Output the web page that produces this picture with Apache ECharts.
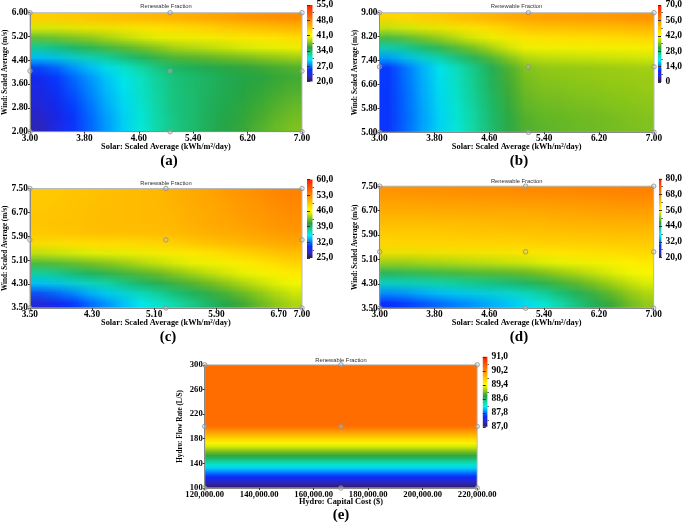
<!DOCTYPE html>
<html><head><meta charset="utf-8">
<script src="https://cdn.jsdelivr.net/npm/echarts@6/dist/echarts.min.js"></script>
<style>html,body{margin:0;padding:0;background:#fff;}#c{width:685px;height:528px;position:relative;}</style>
</head><body><div id="c"></div>
<script>
// ---------------- DATA ----------------
// Panel (a): Solar 3-7 x Wind 2-6, Renewable Fraction (%)
const aXTicks = [3.00, 3.80, 4.60, 5.40, 6.20, 7.00];
const aYTicks = [2.00, 2.80, 3.60, 4.40, 5.20, 6.00];
const aBarTicks = [20, 27, 34, 41, 48, 55];
const aSolarSamples = [3.00, 5.06, 7.00];
const aWindSamples = [2.00, 4.04, 6.00];
// rows listed top (high wind) to bottom, columns left (low solar) to right
const aRows = [
 [45.1,45.3,45.5,45.6,45.8,45.9,46.0,46.2,46.4,46.7,47.0,47.4,47.7,48.0,48.3,48.6],
 [41.3,41.6,42.0,42.3,42.7,43.0,43.3,43.7,44.0,44.3,44.6,45.0,45.3,45.6,45.9,46.2],
 [37.5,38.0,38.6,39.0,39.6,40.1,40.6,41.2,41.7,42.0,42.3,42.7,43.0,43.3,43.6,43.9],
 [33.7,34.4,35.1,35.8,36.5,37.2,37.9,38.6,39.3,39.6,39.9,40.3,40.6,40.9,41.2,41.5],
 [29.9,30.7,31.7,32.5,33.5,34.3,35.2,36.1,36.9,37.2,37.5,37.9,38.2,38.5,38.8,39.1],
 [26.1,27.1,28.2,29.2,30.4,31.4,32.5,33.6,34.5,34.8,35.1,35.5,35.8,36.1,36.4,36.7],
 [24.3,25.4,26.7,27.8,29.0,30.2,31.4,32.5,33.6,33.9,34.2,34.7,35.0,35.3,35.7,36.0],
 [23.8,25.0,26.3,27.5,28.8,30.0,31.2,32.4,33.5,33.9,34.3,34.7,35.1,35.5,35.9,36.3],
 [23.4,24.6,25.9,27.2,28.5,29.7,31.1,32.3,33.4,33.9,34.3,34.8,35.2,35.7,36.1,36.6],
 [22.9,24.2,25.5,26.9,28.3,29.5,30.9,32.2,33.4,33.8,34.4,34.9,35.4,35.9,36.4,36.9],
 [22.4,23.8,25.2,26.6,28.0,29.3,30.7,32.1,33.3,33.8,34.4,35.0,35.5,36.1,36.6,37.2],
 [21.9,23.4,24.8,26.3,27.7,29.1,30.6,32.0,33.2,33.8,34.5,35.1,35.6,36.3,36.9,37.5]
];

// Panel (b): Solar 3-7 x Wind 5-9
const bXTicks = [3.00, 3.80, 4.60, 5.40, 6.20, 7.00];
const bYTicks = [5.00, 5.80, 6.60, 7.40, 8.20, 9.00];
const bBarTicks = [0, 14, 28, 42, 56, 70];
const bSolarSamples = [3.00, 5.17, 7.00];
const bWindSamples = [5.00, 7.19, 9.00];
const bRows = [
 [48.4,49.1,49.9,50.5,51.2,51.9,52.6,53.4,54.0,54.4,54.6,54.9,55.1,55.4,55.7,56.0],
 [40.7,41.9,43.2,44.3,45.5,46.7,47.9,49.1,50.2,50.7,50.9,51.2,51.3,51.6,51.9,52.1],
 [33.1,34.8,36.5,38.1,39.8,41.4,43.1,44.8,46.5,47.0,47.2,47.4,47.6,47.8,48.0,48.2],
 [25.4,27.6,29.8,31.9,34.1,36.2,38.4,40.6,42.7,43.3,43.4,43.7,43.8,44.0,44.2,44.4],
 [17.7,20.4,23.0,25.7,28.3,31.0,33.6,36.3,38.9,39.5,39.7,39.9,40.0,40.2,40.4,40.5],
 [10.6,13.7,16.8,19.9,23.0,26.1,29.2,32.3,35.4,36.1,36.2,36.4,36.5,36.7,36.8,36.9],
 [10.5,13.5,16.6,19.7,22.7,25.8,28.8,31.9,34.9,35.6,35.8,36.0,36.1,36.3,36.4,36.6],
 [10.4,13.4,16.4,19.4,22.4,25.4,28.5,31.5,34.5,35.2,35.3,35.6,35.7,36.0,36.1,36.3],
 [10.3,13.2,16.2,19.2,22.2,25.1,28.1,31.1,34.0,34.7,34.9,35.2,35.3,35.6,35.8,36.0],
 [10.2,13.1,16.1,19.0,21.9,24.8,27.8,30.7,33.6,34.3,34.5,34.8,35.0,35.2,35.4,35.7],
 [10.1,12.9,15.9,18.7,21.6,24.5,27.4,30.3,33.2,33.9,34.1,34.4,34.6,34.8,35.1,35.4],
 [9.9,12.8,15.7,18.5,21.3,24.2,27.1,29.9,32.7,33.4,33.7,34.0,34.2,34.5,34.8,35.1]
];

// Panel (c): Solar 3.5-7 x Wind 3.5-7.5
const cXTicks = [3.50, 4.30, 5.10, 5.90, 6.70, 7.00];
const cYTicks = [3.50, 4.30, 5.10, 5.90, 6.70, 7.50];
const cBarTicks = [25, 32, 39, 46, 53, 60];
const cSolarSamples = [3.50, 5.25, 7.00];
const cWindSamples = [3.50, 5.78, 7.50];
const cRows = [
 [49.3,49.4,49.6,49.8,49.9,50.1,50.3,50.4,50.7,51.1,51.5,51.9,52.4,52.8,53.2,53.6],
 [49.4,49.5,49.7,49.9,49.9,50.1,50.2,50.3,50.6,51.0,51.4,51.7,52.2,52.5,52.9,53.3],
 [49.5,49.6,49.7,49.9,50.0,50.1,50.2,50.3,50.5,50.9,51.3,51.6,52.0,52.3,52.6,53.0],
 [49.6,49.7,49.8,49.9,50.0,50.1,50.2,50.3,50.4,50.8,51.1,51.4,51.8,52.0,52.4,52.7],
 [49.7,49.8,49.9,50.0,50.0,50.1,50.1,50.2,50.4,50.7,51.0,51.2,51.5,51.8,52.1,52.4],
 [48.6,48.8,48.8,49.0,49.1,49.2,49.3,49.4,49.6,49.9,50.3,50.5,50.8,51.1,51.4,51.7],
 [45.2,45.5,45.8,46.1,46.3,46.6,46.9,47.2,47.5,47.9,48.4,48.7,49.2,49.5,50.0,50.4],
 [41.8,42.2,42.7,43.2,43.6,44.0,44.5,45.0,45.4,45.9,46.5,47.0,47.5,48.0,48.5,49.1],
 [38.3,39.0,39.6,40.2,40.8,41.5,42.1,42.7,43.3,44.0,44.6,45.2,45.8,46.4,47.1,47.7],
 [34.9,35.7,36.5,37.3,38.1,38.9,39.7,40.5,41.2,42.0,42.7,43.4,44.2,44.9,45.6,46.4],
 [31.4,32.4,33.4,34.4,35.3,36.3,37.3,38.3,39.1,40.0,40.8,41.6,42.5,43.3,44.2,45.0],
 [28.0,29.1,30.3,31.5,32.6,33.7,34.9,36.0,37.0,38.0,38.9,39.9,40.8,41.8,42.7,43.7]
];

// Panel (d): Solar 3-7 x Wind 3.5-7.5
const dXTicks = [3.00, 3.80, 4.60, 5.40, 6.20, 7.00];
const dYTicks = [3.50, 4.30, 5.10, 5.90, 6.70, 7.50];
const dBarTicks = [20, 32, 44, 56, 68, 80];
const dSolarSamples = [3.00, 5.13, 7.00];
const dWindSamples = [3.50, 5.35, 7.50];
const dRows = [
 [67.4,67.5,67.6,67.7,67.8,67.9,68.1,68.2,68.3,68.4,68.6,68.7,68.8,69.0,69.1,69.2],
 [66.1,66.2,66.3,66.4,66.5,66.6,66.7,66.8,66.9,67.0,67.2,67.3,67.4,67.6,67.7,67.8],
 [64.8,64.9,65.0,65.1,65.1,65.2,65.4,65.5,65.5,65.6,65.8,65.9,66.0,66.2,66.3,66.4],
 [63.5,63.6,63.6,63.7,63.8,63.9,64.0,64.1,64.1,64.2,64.4,64.5,64.6,64.8,64.9,65.0],
 [62.2,62.3,62.3,62.4,62.4,62.5,62.6,62.7,62.7,62.8,63.0,63.1,63.2,63.4,63.5,63.6],
 [60.9,61.0,61.0,61.1,61.1,61.2,61.2,61.3,61.3,61.4,61.6,61.7,61.8,62.0,62.1,62.2],
 [59.3,59.4,59.4,59.5,59.5,59.6,59.6,59.8,59.8,59.9,60.1,60.2,60.3,60.6,60.7,60.8],
 [53.2,53.4,53.6,53.9,54.1,54.4,54.6,54.9,55.1,55.6,56.2,56.7,57.2,57.8,58.3,58.8],
 [47.0,47.5,47.9,48.3,48.7,49.2,49.6,50.0,50.4,51.3,52.3,53.2,54.0,55.0,55.9,56.8],
 [40.8,41.5,42.0,42.7,43.3,43.9,44.5,45.1,45.7,47.0,48.3,49.6,50.9,52.2,53.5,54.9],
 [34.7,35.5,36.3,37.1,37.9,38.7,39.5,40.2,41.0,42.7,44.4,46.1,47.7,49.5,51.2,52.9],
 [28.6,29.6,30.5,31.5,32.5,33.4,34.4,35.3,36.3,38.4,40.5,42.6,44.6,46.7,48.8,50.9]
];

// Panel (e): Hydro capital cost x Hydro flow rate (value depends on flow rate only)
const eXTicks = [120000, 140000, 160000, 180000, 200000, 220000];
const eYTicks = [100, 140, 180, 220, 260, 300];
const eBarTicks = [87.0, 87.8, 88.6, 89.4, 90.2, 91.0];
const eCostSamples = [120000, 170000, 220000];
const eFlowSamples = [100, 200, 300];
// one value per 5 L/s band, listed from 300 L/s (top) down to 100 L/s (bottom)
const eRowValues = [
 90.4,90.4,90.4,90.4,90.4,90.4,90.4,90.4,90.4,90.4,
 90.4,90.4,90.4,90.4,90.4,90.4,90.4,90.4,90.4,90.4,
 90.34,90.17,90.00,89.83,89.66,89.49,89.31,89.14,88.97,88.80,
 88.63,88.46,88.29,88.11,87.94,87.77,87.60,87.43,87.26,87.09
];

// ---------------- STYLE ----------------
const SERIF = '"Liberation Serif", "Times New Roman", serif';
const SANS = '"Liberation Sans", Arial, sans-serif';
const STOPS = [
 [0.00,'#2e1a5a'],[0.07,'#3028c8'],[0.15,'#0a2cff'],[0.22,'#0090ff'],[0.29,'#00f0f4'],
 [0.36,'#16d49a'],[0.44,'#26a040'],[0.52,'#9ccc16'],[0.60,'#ffff00'],[0.70,'#ffc800'],
 [0.78,'#ff9800'],[0.84,'#ff7200'],[0.93,'#ff4400'],[1.00,'#ff1a00']
];
function hex(c){return [parseInt(c.substr(1,2),16),parseInt(c.substr(3,2),16),parseInt(c.substr(5,2),16)];}
function colorAt(f){
  for(let i=1;i<STOPS.length;i++){
    if(f<=STOPS[i][0]){
      const a=STOPS[i-1],b=STOPS[i],t=(f-a[0])/(b[0]-a[0]);
      const ca=hex(a[1]),cb=hex(b[1]);
      return 'rgb('+ca.map((v,k)=>Math.round(v+(cb[k]-v)*t)).join(',')+')';
    }
  }
  return STOPS[STOPS.length-1][1];
}
const PALETTE = []; for(let i=0;i<=60;i++) PALETTE.push(colorAt(i/60));
const barGradient = {type:'linear',x:0,y:1,x2:0,y2:0,colorStops:STOPS.map(s=>({offset:s[0],color:s[1]}))};

const fmt2 = v => v.toFixed(2);
const fmtInt = v => String(Math.round(v));
const fmtMoney = v => String(Math.round(v)).replace(/\B(?=(\d{3})+(?!\d))/g, ',') + '.00';
const fmtBar = v => (Math.abs(v) < 1e-9) ? '0' : v.toFixed(1).replace('.', ',');
const mids = t => t.slice(1).map((v,i)=>(v+t[i])/2);

const solarName = 'Solar: Scaled Average (kWh/m\u00B2/day)';
const windName = 'Wind: Scaled Average (m/s)';

function gridRows(rows){ const out=[]; const n=rows.length; rows.forEach((r,j)=>r.forEach((v,i)=>out.push([i,n-1-j,v]))); return out; }

const panels = [
 {rows:aRows, xT:aXTicks, yT:aYTicks, bT:aBarTicks, xs:aSolarSamples, ys:aWindSamples, xName:solarName, yName:windName,
  xFmt:fmt2, yFmt:fmt2, plot:{left:30,top:12.7,width:272,height:119}, cbar:{left:307,top:5,width:5.5,height:76.5},
  title:[166,6.5], label:'(a)', lab:[169,161.5], tick:9.3, xGap:11},
 {rows:bRows, xT:bXTicks, yT:bYTicks, bT:bBarTicks, xs:bSolarSamples, ys:bWindSamples, xName:solarName, yName:windName,
  xFmt:fmt2, yFmt:fmt2, plot:{left:379.5,top:12.7,width:274.5,height:119.6}, cbar:{left:658,top:5,width:5,height:77},
  title:[516.5,6.5], label:'(b)', lab:[519,161.5], tick:9.3, xGap:11},
 {rows:cRows, xT:cXTicks, yT:cYTicks, bT:cBarTicks, xs:cSolarSamples, ys:cWindSamples, xName:solarName, yName:windName,
  xFmt:fmt2, yFmt:fmt2, plot:{left:29.8,top:188.5,width:272.2,height:119.5}, cbar:{left:307,top:179.5,width:5.5,height:78.5},
  title:[166,183.3], label:'(c)', lab:[168,337.5], tick:9.3, xGap:10.5},
 {rows:dRows, xT:dXTicks, yT:dYTicks, bT:dBarTicks, xs:dSolarSamples, ys:dWindSamples, xName:solarName, yName:windName,
  xFmt:fmt2, yFmt:fmt2, plot:{left:379.7,top:186.2,width:274,height:122}, cbar:{left:659,top:178.8,width:5,height:78.7},
  title:[516.7,181.7], label:'(d)', lab:[519,337.5], tick:9.3, xGap:10.5},
 {rows:eRowValues.map(v=>[v]), xT:eXTicks, yT:eYTicks, bT:eBarTicks, xs:eCostSamples, ys:eFlowSamples,
  xName:'Hydro: Capital Cost ($)', yName:'Hydro: Flow Rate (L/S)',
  xFmt:fmtMoney, yFmt:fmtInt, plot:{left:204.7,top:364.8,width:272.5,height:123.2}, cbar:{left:482.8,top:356.8,width:4.6,height:70},
  title:[341,360], label:'(e)', lab:[341,515], tick:8.6, xGap:10}
];

// ---------------- MAIN CHART: frames, axes, sample markers, colour bars ----------------
const grid=[], xAxis=[], yAxis=[], series=[], texts=[];
panels.forEach((p,k)=>{
  const g = 2*k;
  grid.push(Object.assign({show:true, backgroundColor:'transparent', borderColor:'#b8b8b8', borderWidth:1, z:5}, p.plot));
  grid.push(Object.assign({show:true, backgroundColor:barGradient, borderWidth:0}, p.cbar));
  const lab = {fontFamily:SERIF, fontWeight:'bold', color:'#000'};
  xAxis.push({type:'value', gridIndex:g, position:'bottom', z:6, min:p.xT[0], max:p.xT[p.xT.length-1],
    axisLine:{show:true,onZero:false,lineStyle:{color:'#8a8a8a',width:1}},
    axisTick:{show:true,length:2,customValues:p.xT,lineStyle:{color:'#333'}},
    axisLabel:Object.assign({customValues:p.xT, formatter:p.xFmt, margin:2, fontSize:p.tick}, lab),
    splitLine:{show:false},
    name:p.xName, nameLocation:'middle', nameGap:p.xGap, nameMoveOverlap:false,
    nameTextStyle:Object.assign({fontSize:8.3}, lab)});
  xAxis.push({type:'value', gridIndex:g+1, show:false, min:0, max:1});
  yAxis.push({type:'value', gridIndex:g, position:'left', z:6, min:p.yT[0], max:p.yT[p.yT.length-1],
    axisLine:{show:true,onZero:false,lineStyle:{color:'#8a8a8a',width:1}},
    axisTick:{show:true,length:2,customValues:p.yT,lineStyle:{color:'#333'}},
    axisLabel:Object.assign({customValues:p.yT, formatter:p.yFmt, margin:2, fontSize:p.tick}, lab),
    splitLine:{show:false},
    name:p.yName, nameLocation:'middle', nameGap:21, nameMoveOverlap:false,
    nameTextStyle:Object.assign({fontSize:7.2}, lab)});
  yAxis.push({type:'value', gridIndex:g+1, position:'right', min:p.bT[0], max:p.bT[p.bT.length-1],
    axisLine:{show:false},
    axisTick:{show:true,length:3,customValues:p.bT,lineStyle:{color:'#333'}},
    axisLabel:Object.assign({customValues:p.bT, formatter:fmtBar, margin:4, fontSize:9.5}, lab),
    splitLine:{show:false}});
  yAxis.push({type:'value', gridIndex:g+1, position:'right', min:p.bT[0], max:p.bT[p.bT.length-1],
    axisLine:{show:false},
    axisTick:{show:true,length:1.5,customValues:mids(p.bT),lineStyle:{color:'#555'}},
    axisLabel:{show:false}, splitLine:{show:false}});
  const pts=[]; p.ys.forEach(y=>p.xs.forEach(x=>pts.push([x,y])));
  series.push({type:'scatter', xAxisIndex:2*k, yAxisIndex:3*k, data:pts, clip:false, silent:true,
    symbol:'circle', symbolSize:4.5, z:8,
    itemStyle:{color:'rgba(200,200,200,0.4)', borderColor:'#8f8f8f', borderWidth:1}});
  texts.push({type:'text', x:p.title[0], y:p.title[1], z:10,
    style:{text:'Renewable Fraction', fontFamily:SANS, fontSize:5.8, fill:'#333', textAlign:'center', textVerticalAlign:'middle', verticalAlign:'middle'}});
  texts.push({type:'text', x:p.lab[0], y:p.lab[1], z:10,
    style:{text:p.label, fontFamily:SERIF, fontWeight:'bold', fontSize:15, fill:'#000', textAlign:'center', textVerticalAlign:'middle', verticalAlign:'middle'}});
});

const chart = echarts.init(document.getElementById('c'), null, {renderer:'canvas'});
chart.setOption({animation:false, backgroundColor:'#fff', grid, xAxis, yAxis, series});

// ---------------- SURFACES: one heatmap per panel, one cell per read value ----------------
// Each heatmap is drawn by ECharts (category axes, continuous visualMap), one pixel per cell,
// then placed over the panel's value-axis extent and shown smoothed (bilinear image scaling).
const surfaces = panels.map((p,k)=>{
  const nC = p.rows[0].length, nR = p.rows.length;
  const holder = document.createElement('div');
  holder.style.cssText = 'position:absolute;left:-3000px;top:0;width:'+nC+'px;height:'+nR+'px;';
  document.body.appendChild(holder);
  const hc = echarts.init(holder, null, {renderer:'canvas', width:nC, height:nR, devicePixelRatio:1});
  hc.setOption({animation:false,
    grid:{left:0,top:0,right:0,bottom:0},
    xAxis:{type:'category', show:false, data:Array.from({length:nC},(_,i)=>String(i))},
    yAxis:{type:'category', show:false, data:Array.from({length:nR},(_,i)=>String(i))},
    visualMap:{type:'continuous', show:false, min:p.bT[0], max:p.bT[p.bT.length-1], inRange:{color:PALETTE}},
    series:[{type:'heatmap', data:gridRows(p.rows), itemStyle:{borderWidth:0}, emphasis:{disabled:true}, progressive:0}]
  });
  const cv = holder.querySelector('canvas');
  const tl = chart.convertToPixel({xAxisIndex:2*k, yAxisIndex:3*k}, [p.xT[0], p.yT[p.yT.length-1]]);
  const br = chart.convertToPixel({xAxisIndex:2*k, yAxisIndex:3*k}, [p.xT[p.xT.length-1], p.yT[0]]);
  return {type:'image', z:1, silent:true,
    style:{image:cv, x:tl[0], y:tl[1], width:br[0]-tl[0], height:br[1]-tl[1]}};
});
chart.setOption({graphic: texts.concat(surfaces)});
</script></body></html>
